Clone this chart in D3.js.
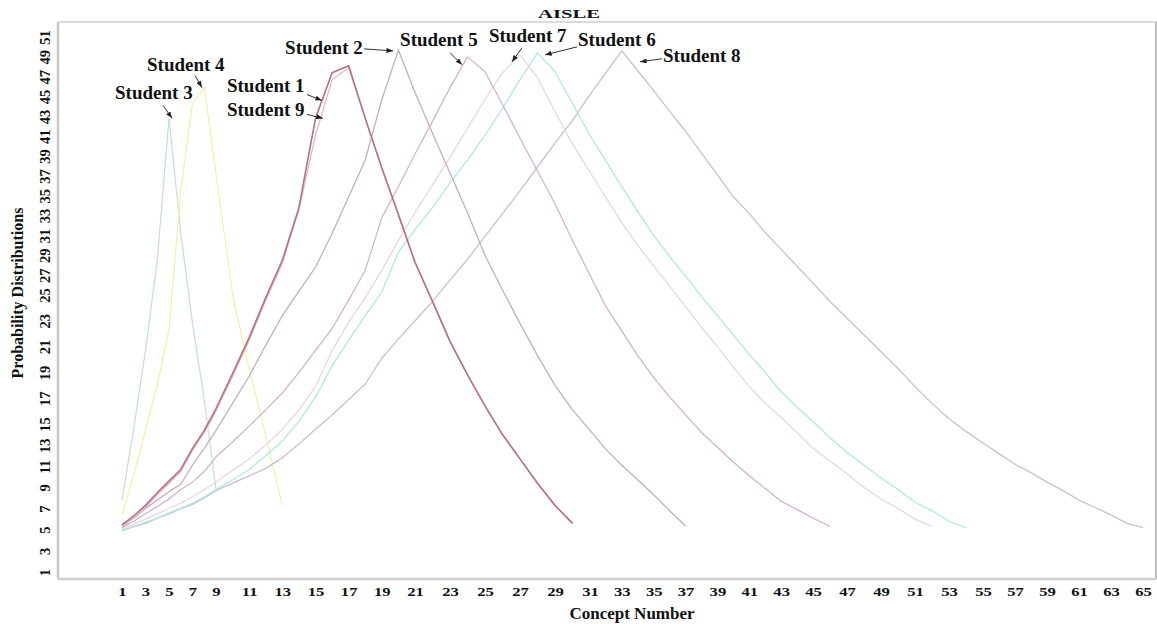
<!DOCTYPE html>
<html>
<head>
<meta charset="utf-8">
<script src="https://cdn.jsdelivr.net/npm/d3@7"></script>
<style>
  body { margin: 0; background: #fff; }
  text { font-family: "Liberation Serif", "Times New Roman", serif; font-weight: bold; fill: #111; }
</style>
</head>
<body>
<div id="chart"></div>
<script>
// probability values per concept number (index 0 = concept 1)
var student1 = [5.45, 6.3, 7.3, 8.5, 9.6, 10.7, 12.7, 14.4, 16.2, 18.9, 21.7, 24.8, 28.5, 33.8, 42.8,
                47.4, 48.1, 42.8, 37.8, 33.1, 28.3, 24.5, 21.4, 18.8, 16.4, 14.0, 11.7, 9.4, 7.3, 5.6];
var student2 = [5.3, 6.1, 7.0, 7.8, 8.6, 9.3, 11.1, 12.7, 14.4, 16.6, 18.7, 21.1, 23.4, 25.4, 27.8,
                31.2, 34.9, 38.6, 44.7, 49.7, 45.4, 41.3, 37.3, 33.3, 29.0, 25.5, 22.8, 20.3, 18.0, 16.1,
                14.4, 12.6, 11.1, 9.7, 8.3, 6.8, 5.35];
var student3 = [7.8, 14.6, 20.7, 28.5, 42.8, 31.3, 22.8, 16.9, 8.8];
var student4 = [6.4, 10.2, 14.4, 18.0, 22.3, 35.6, 44.3, 45.9, 37.3, 25.0, 19.3, 13.9, 7.3];
var student5 = [5.2, 5.8, 6.5, 7.2, 7.9, 8.8, 9.5, 10.5, 11.9, 13.3, 14.8, 16.1, 17.4, 19.0, 20.7,
                22.4, 24.6, 27.5, 32.8, 35.9, 39.2, 42.5, 45.9, 49.0, 47.5, 44.2, 40.8, 37.5, 34.2, 30.5,
                27.0, 24.1, 22.2, 20.3, 18.6, 17.1, 15.7, 14.2, 12.8, 11.4, 10.1, 8.9, 7.7, 6.9, 6.1, 5.3];
var student6 = [4.97, 5.35, 5.7, 6.1, 6.6, 7.05, 7.5, 8.1, 8.8, 9.7, 10.7, 12.0, 13.4, 15.2, 17.1,
                19.5, 21.5, 23.4, 25.3, 29.3, 31.6, 33.8, 36.3, 38.6, 41.1, 43.8, 46.7, 49.4, 47.5, 44.3,
                41.1, 38.5, 35.9, 33.4, 31.0, 28.9, 26.9, 24.9, 23.4, 21.9, 20.4, 19.0, 17.5, 16.3, 15.2,
                13.7, 12.3, 11.1, 9.9, 8.8, 7.6, 6.8, 5.8, 5.2];
var student7 = [5.07, 5.54, 6.0, 6.5, 7.0, 7.5, 8.1, 8.8, 9.5, 10.6, 11.7, 13.0, 14.5, 16.1, 17.9,
                20.7, 22.9, 24.8, 27.5, 30.5, 33.3, 36.1, 38.9, 41.8, 44.7, 47.4, 49.2, 46.9, 43.5, 40.2,
                37.4, 34.8, 32.3, 30.0, 27.9, 25.9, 24.1, 22.5, 21.0, 19.4, 17.9, 16.6, 15.5, 14.2, 12.7,
                11.5, 10.3, 9.0, 7.9, 7.0, 6.0, 5.3];
var student8 = [4.9, 5.3, 5.6, 6.1, 6.5, 7.0, 7.4, 8.0, 8.7, 9.4, 10.1, 10.8, 11.8, 13.1, 14.5,
                15.7, 16.9, 18.1, 20.1, 21.6, 23.0, 24.5, 26.5, 28.6, 30.9, 33.2, 35.5, 37.9, 40.3, 42.6,
                45.2, 47.4, 49.6, 47.6, 45.6, 43.5, 41.5, 39.3, 37.1, 34.9, 33.2, 31.3, 29.6, 27.9, 26.2,
                24.5, 23.2, 21.9, 20.6, 19.3, 17.9, 16.6, 15.4, 14.3, 13.2, 12.2, 11.2, 10.4, 9.5, 8.7,
                7.8, 7.1, 6.4, 5.6, 5.2];
var student9 = [5.3, 6.1, 7.1, 8.3, 9.4, 10.5, 12.5, 14.2, 16.0, 18.7, 21.5, 24.6, 28.2, 33.6, 41.1,
                46.7, 47.9, 42.8, 37.8, 33.1, 28.3, 24.5, 21.4, 18.8, 16.4, 14.0, 11.7, 9.4, 7.3, 5.6];

var xTicks = d3.range(1, 66, 2);
var yTicks = d3.range(1, 52, 2);

// drawing order: red Student 1 last so it sits on top
var series = [
  {name: "Student 3", values: student3, color: "#c0e3cb", w: 1.2},
  {name: "Student 4", values: student4, color: "#eef3a6", w: 1.2},
  {name: "Student 8", values: student8, color: "#cbbfcc", w: 1.3},
  {name: "Student 6", values: student6, color: "#b0e8e4", w: 1.3},
  {name: "Student 7", values: student7, color: "#ead2e2", w: 1.2},
  {name: "Student 5", values: student5, color: "#d0b0cd", w: 1.2},
  {name: "Student 2", values: student2, color: "#c0b0c0", w: 1.3},
  {name: "Student 9", values: student9, color: "#dcb8c2", w: 1.2},
  {name: "Student 1", values: student1, color: "#b5727a", w: 1.6}
];

// callouts: arrow tip in data units, text and tail offsets in px
var callouts = [
  {text: "Student 3", tip: [5.26, 42.8], tx: -57, ty: -19, ax: -9,  ay: -13},
  {text: "Student 4", tip: [7.81, 45.9], tx: -55, ty: -17, ax: -7,  ay: -12},
  {text: "Student 1", tip: [15.39, 44.6], tx: -95, ty: -9, ax: -15, ay: -6},
  {text: "Student 9", tip: [15.45, 42.8], tx: -96, ty: -2, ax: -16, ay: -4},
  {text: "Student 2", tip: [19.68, 49.6], tx: -108, ty: 3, ax: -29, ay: -2},
  {text: "Student 5", tip: [23.69, 48.2], tx: -62, ty: -19, ax: -12, ay: -12},
  {text: "Student 7", tip: [26.54, 48.5], tx: -23, ty: -20, ax: 10,  ay: -14},
  {text: "Student 6", tip: [28.43, 49.2], tx: 33,  ty: -9,  ax: 32,  ay: -8},
  {text: "Student 8", tip: [34.14, 48.5], tx: 23,  ty: 0,   ax: 22,  ay: -3}
];

var width = 1157, height = 624;
var frame = {left: 58, top: 22, right: 1156, bottom: 579};

var svg = d3.select("#chart")
  .append("svg")
  .attr("width", width)
  .attr("height", height);

svg.append("defs").append("marker")
  .attr("id", "arrow")
  .attr("viewBox", "0 0 8 6")
  .attr("refX", 8).attr("refY", 3)
  .attr("markerWidth", 7).attr("markerHeight", 5)
  .attr("markerUnits", "userSpaceOnUse")
  .attr("orient", "auto")
  .append("path")
  .attr("d", "M0,0 L8,3 L0,6 z")
  .attr("fill", "#222");

// the printed axis is not evenly spaced, so the scales are piecewise
var x = d3.scaleLinear()
  .domain([1, 9, 21, 31, 45, 55, 65])
  .range([122, 216, 415, 590, 813, 983, 1143]);

var y = d3.scaleLinear()
  .domain([1, 15, 25, 51])
  .range([572, 424, 295, 37]);

// frame
svg.append("line").attr("x1", frame.left).attr("x2", frame.right)
  .attr("y1", frame.top).attr("y2", frame.top)
  .attr("stroke", "#cfcfcf").attr("stroke-width", 1.5);
svg.append("line").attr("x1", frame.right).attr("x2", frame.right)
  .attr("y1", frame.top).attr("y2", frame.bottom)
  .attr("stroke", "#a8a8a8").attr("stroke-width", 1.5);
svg.append("line").attr("x1", frame.left).attr("x2", frame.left)
  .attr("y1", frame.top).attr("y2", frame.bottom)
  .attr("stroke", "#c8c8c8").attr("stroke-width", 2.5);
svg.append("line").attr("x1", frame.left).attr("x2", frame.right)
  .attr("y1", frame.bottom).attr("y2", frame.bottom)
  .attr("stroke", "#cfcfcf").attr("stroke-width", 2.5);

// axes
var xAxis = svg.append("g")
  .attr("transform", "translate(0," + frame.bottom + ")")
  .call(d3.axisBottom(x).tickValues(xTicks).tickSize(0).tickPadding(9));
xAxis.select(".domain").remove();
xAxis.selectAll("text")
  .attr("font-size", 11.5)
  .attr("transform", "scale(1.45,1)")
  .style("font-family", "'Liberation Serif', serif")
  .style("font-weight", "bold");

var yAxis = svg.append("g")
  .attr("transform", "translate(" + frame.left + ",0)")
  .call(d3.axisLeft(y).tickValues(yTicks).tickSize(0));
yAxis.select(".domain").remove();
yAxis.selectAll("text")
  .attr("x", 0).attr("dy", "0.36em")
  .attr("text-anchor", "middle")
  .attr("transform", "translate(-13,0) rotate(-90)")
  .attr("font-size", 14.5)
  .style("font-family", "'Liberation Serif', serif")
  .style("font-weight", "bold");

// lines
var line = d3.line()
  .x(function(d, i) { return x(i + 1); })
  .y(function(d) { return y(d); });

svg.selectAll(".student")
  .data(series)
  .enter()
  .append("path")
  .attr("class", "student")
  .attr("d", function(d) { return line(d.values); })
  .attr("fill", "none")
  .attr("stroke", function(d) { return d.color; })
  .attr("stroke-width", function(d) { return d.w; })
  .attr("stroke-linejoin", "round");

// callouts
var c = svg.selectAll(".callout")
  .data(callouts)
  .enter()
  .append("g")
  .attr("class", "callout")
  .attr("transform", function(d) { return "translate(" + x(d.tip[0]) + "," + y(d.tip[1]) + ")"; });

c.append("line")
  .attr("x1", function(d) { return d.ax; })
  .attr("y1", function(d) { return d.ay; })
  .attr("x2", 0).attr("y2", 0)
  .attr("stroke", "#333").attr("stroke-width", 1)
  .attr("marker-end", "url(#arrow)");

c.append("text")
  .attr("x", function(d) { return d.tx; })
  .attr("y", function(d) { return d.ty; })
  .attr("font-size", 19)
  .text(function(d) { return d.text; });

// titles
svg.append("text")
  .attr("x", 569).attr("y", 18)
  .attr("text-anchor", "middle")
  .attr("font-size", 12)
  .attr("textLength", 62)
  .attr("lengthAdjust", "spacingAndGlyphs")
  .text("AISLE");

svg.append("text")
  .attr("x", 632).attr("y", 619)
  .attr("text-anchor", "middle")
  .attr("font-size", 17)
  .text("Concept Number");

svg.append("text")
  .attr("transform", "translate(23,293) rotate(-90)")
  .attr("text-anchor", "middle")
  .attr("font-size", 16)
  .text("Probability Distributions");
</script>
</body>
</html>
